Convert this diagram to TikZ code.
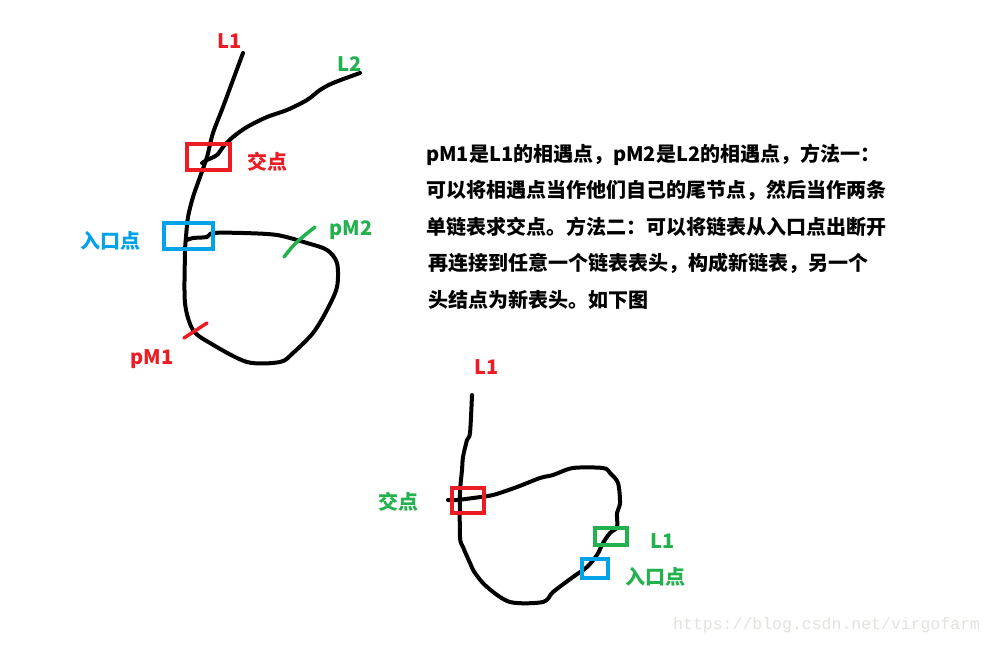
\documentclass[tikz,border=0pt]{standalone}
\usepackage{fontspec}
\newfontfamily\cjk{Noto Sans CJK SC}
\newfontfamily\wmfont{Liberation Mono}
\usetikzlibrary{positioning}
\definecolor{paintred}{RGB}{237,28,36}
\definecolor{paintgreen}{RGB}{34,177,76}
\definecolor{paintblue}{RGB}{0,162,232}
\definecolor{wmgray}{RGB}{226,226,222}
\begin{document}
\begin{tikzpicture}[x=1pt,y=-1pt,
curve/.style={line width=4pt,line cap=round,line join=round},
markbox/.style={line width=4pt},
tick/.style={line width=3.5pt,line cap=round},
lbl/.style={font=\cjk\bfseries\fontsize{20}{22}\selectfont,inner sep=0pt},
para/.style={font=\cjk\bfseries\fontsize{20}{24}\selectfont,inner sep=0pt,anchor=west}]
\useasboundingbox[fill=white] (0,0) rectangle (995,645);

\draw[curve] plot[smooth,tension=0.5] coordinates {(243,53) (233,80) (223,107) (213,133) (207,157) (200,177) (193,197) (188,217) (186,237) (185,253) (185,303) (193,330) (210,343) (247,362) (280,362) (293,353) (313,333) (327,310) (337,287) (337,263) (327,250) (307,243) (277,235) (243,233) (213,233) (207,237) (193,238) (187,240)};
\draw[curve] plot[smooth,tension=0.5] coordinates {(360,73) (333,83) (320,90) (307,100) (287,110) (267,117) (247,127) (233,137) (223,147) (217,155) (207,160) (202,163)};
\draw[markbox,paintred] (187,144) rectangle (230,170);
\draw[markbox,paintblue] (164,223) rectangle (213,249);
\draw[tick,paintgreen] (284,257) .. controls (295,243) .. (315,227);
\draw[tick,paintred] (184,338) -- (207,323);

\node[lbl,paintred] (topL1) at (230,41) {L1};
\node[lbl,paintgreen] (topL2) at (350,64) {L2};
\node[lbl,paintred] (topcross) at (267,162) {交点};
\node[lbl,paintblue] (topentry) at (110,241) {入口点};
\node[lbl,paintgreen] (pmtwo) at (351,230) {pM2};
\node[lbl,paintred] (pmone) at (152,359) {pM1};

\node[para] (line1) at (426,155) {pM1是L1的相遇点，pM2是L2的相遇点，方法一：};
\node[para] (line2) at (426,190) {可以将相遇点当作他们自己的尾节点，然后当作两条};
\node[para] (line3) at (426,227) {单链表求交点。方法二：可以将链表从入口点出断开};
\node[para] (line4) at (428,263) {再连接到任意一个链表表头，构成新链表，另一个};
\node[para] (line5) at (428,300) {头结点为新表头。如下图};

\draw[curve] plot[smooth,tension=0.5] coordinates {(472,395) (470,433) (467,440) (463,457) (462,470) (460,493) (460,537) (463,547) (470,563) (475,573) (487,587) (510,602) (543,602) (553,592) (573,577) (587,567) (597,555) (603,543) (610,533) (617,527) (617,513) (620,503) (618,483) (610,473) (603,468) (573,468) (553,475) (540,478) (517,487) (493,495) (473,498) (457,500) (448,500)};
\draw[markbox,paintred] (452,488) rectangle (484,513);
\draw[markbox,paintgreen] (595,528) rectangle (627,545);
\draw[markbox,paintblue] (582,559) rectangle (608,578);

\node[lbl,paintred] (botL1) at (487,367) {L1};
\node[lbl,paintgreen] (botcross) at (398,502) {交点};
\node[lbl,paintgreen] (botL1b) at (663,541) {L1};
\node[lbl,paintgreen] (botentry) at (655,577) {入口点};

\node[font=\wmfont\fontsize{16.5}{18}\selectfont,text=wmgray,inner sep=0pt,anchor=west] (mark) at (673,625) {https://blog.csdn.net/virgofarm};
\end{tikzpicture}
\end{document}
